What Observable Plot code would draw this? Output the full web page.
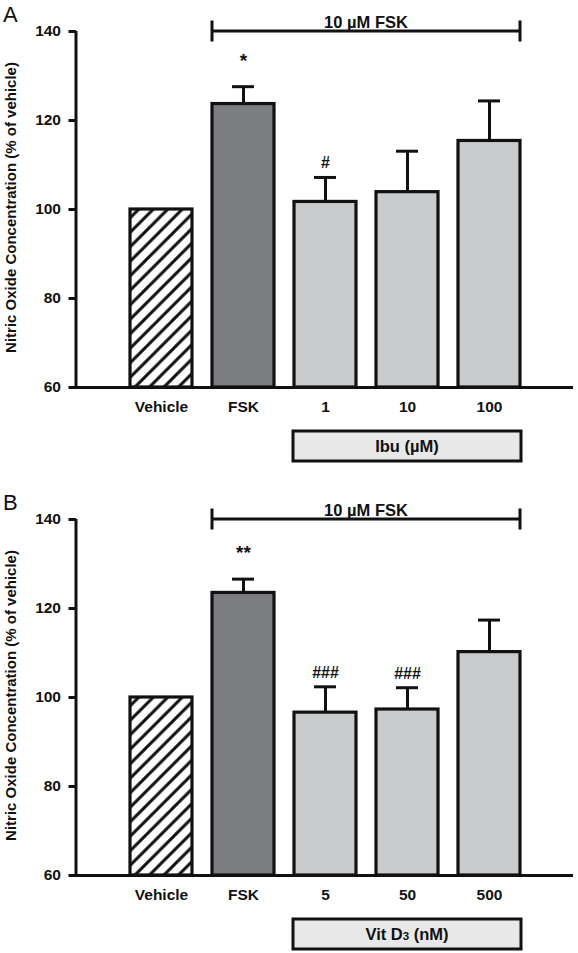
<!DOCTYPE html>
<html><head><meta charset="utf-8">
<script src="https://cdn.jsdelivr.net/npm/d3@7"></script>
<script src="https://cdn.jsdelivr.net/npm/@observablehq/plot@0.6"></script>
<style>
body{margin:0;background:#fff;font-family:"Liberation Sans",Arial,sans-serif;}
#chart svg{display:block}
g[aria-label^="y-axis"] line, g[aria-label^="y-axis"] path {stroke-width:3px;}
</style></head><body><div id="chart"></div>
<script>
// ---- data ----
const categoriesA = ["Vehicle", "FSK", "1", "10", "100"];
const meansA = [100, 123.7, 101.7, 103.9, 115.4];
const semA = [0, 3.9, 5.5, 9.2, 9.0];
const sigA = ["", "*", "#", "", ""];
const groupLabelA = ["Ibu (µM)", "", ""];

const categoriesB = ["Vehicle", "FSK", "5", "50", "500"];
const meansB = [100, 123.5, 96.6, 97.3, 110.2];
const semB = [0, 3.1, 5.8, 4.9, 7.2];
const sigB = ["", "**", "###", "###", ""];
const groupLabelB = ["Vit D", "3", " (nM)"];

const yTicks = [60, 80, 100, 120, 140];
const bracketLabel = "10 µM FSK";
const yTitle = "Nitric Oxide Concentration (% of vehicle)";
const panelLetters = ["A", "B"];

const INK = "#111";
const fillVehicle = (id) => `url(#${id})`;
const fillFSK = "#7c7d80";
const fillTreat = "#c9cacc";
const fillBox = "#e8e8e8";

function panel(letter, cats, means, sems, sigs, groupParts, height, hatchId) {
  const data = cats.map((c, i) => ({
    cat: c, mean: means[i], sem: sems[i], sig: sigs[i], top: means[i] + sems[i],
    fill: i === 0 ? fillVehicle(hatchId) : i === 1 ? fillFSK : fillTreat
  }));
  const plot = Plot.plot({
    width: 578, height,
    marginLeft: 76, marginRight: 5, marginTop: 31, marginBottom: height - 387,
    style: {fontFamily: "'Liberation Sans', Arial, sans-serif", fontSize: "15.5px", fontWeight: "bold", color: INK, background: "white", overflow: "visible"},
    x: {domain: cats, paddingInner: 0.245, paddingOuter: 0.6225, tickSize: 0, tickPadding: 13, label: null},
    y: {domain: [60, 140], ticks: yTicks, tickSize: 7.5, tickPadding: 8, label: null},
    color: {type: "identity"},
    marks: [
      Plot.ruleX(data.filter(d => d.sem > 0), {x: "cat", y1: "mean", y2: "top", stroke: INK, strokeWidth: 3}),
      Plot.tickY(data.filter(d => d.sem > 0), {x: "cat", y: "top", stroke: INK, strokeWidth: 3, inset: 20}),
      Plot.barY(data, {x: "cat", y1: 60, y2: "mean", fill: "fill", stroke: INK, strokeWidth: 3.2}),
      Plot.ruleY([60], {stroke: INK, strokeWidth: 3}),
      Plot.text(data.filter(d => d.sig.startsWith("*")), {x: "cat", y: "top", text: "sig", lineAnchor: "bottom", dy: -20, fontSize: 19, fill: INK}),
      Plot.text(data.filter(d => d.sig.startsWith("#")), {x: "cat", y: "top", text: "sig", lineAnchor: "bottom", dy: -9, fontSize: 16, fill: INK}),
      Plot.text([yTitle], {frameAnchor: "left", textAnchor: "middle", rotate: -90, dx: -65, dy: -2, fontSize: 15, fill: INK})
    ]
  });

  const svg = d3.select(plot);
  const sx = plot.scale("x"), sy = plot.scale("y");
  const bw = sx.bandwidth;
  const bx = c => sx.apply(c);

  // hatch pattern
  const P = 14.5;
  const defs = svg.insert("defs", ":first-child");
  const pat = defs.append("pattern").attr("id", hatchId).attr("patternUnits", "userSpaceOnUse")
    .attr("width", P).attr("height", P);
  pat.append("rect").attr("width", P).attr("height", P).attr("fill", "white");
  pat.append("path").attr("d", `M-2,2 L2,-2 M0,${P} L${P},0 M${P - 2},${P + 2} L${P + 2},${P - 2}`)
    .attr("stroke", INK).attr("stroke-width", 3).attr("fill", "none");

  const g = svg.append("g");
  // y axis line
  const xl = sx.range[0];
  g.append("line").attr("x1", xl).attr("x2", xl)
    .attr("y1", sy.apply(140)).attr("y2", sy.apply(60) + 1.5)
    .attr("stroke", INK).attr("stroke-width", 3);

  // bracket
  const bx1 = bx(cats[1]), bx2 = bx(cats[cats.length - 1]) + bw, by = sy.apply(140);
  g.append("path").attr("d", `M${bx1},${by} H${bx2} M${bx1},${by - 10.5} V${by + 10.5} M${bx2},${by - 10.5} V${by + 10.5}`)
    .attr("stroke", INK).attr("stroke-width", 3).attr("fill", "none");
  g.append("text").attr("x", (bx1 + bx2) / 2).attr("y", by - 8.5).attr("dy", "0.35em")
    .attr("text-anchor", "middle").attr("font-size", 16.5).attr("fill", INK).text(bracketLabel);

  // group box
  const gx1 = bx(cats[2]) - 1, gx2 = bx(cats[4]) + bw + 1;
  const gy1 = sy.apply(60) + 44, gy2 = gy1 + 30;
  g.append("rect").attr("x", gx1).attr("y", gy1).attr("width", gx2 - gx1).attr("height", gy2 - gy1)
    .attr("fill", fillBox).attr("stroke", INK).attr("stroke-width", 3);
  const t = g.append("text").attr("x", (gx1 + gx2) / 2).attr("y", (gy1 + gy2) / 2).attr("dy", "0.35em")
    .attr("text-anchor", "middle").attr("font-size", 16.5).attr("fill", INK);
  t.append("tspan").text(groupParts[0]);
  if (groupParts[1]) t.append("tspan").attr("font-size", 11.5).text(groupParts[1]);
  if (groupParts[2]) t.append("tspan").text(groupParts[2]);

  // panel letter
  g.append("text").attr("x", 3).attr("y", 22).attr("text-anchor", "start")
    .attr("font-size", 22).attr("font-weight", "normal").attr("fill", INK).text(letter);

  return plot;
}

const root = document.getElementById("chart");
root.appendChild(panel(panelLetters[0], categoriesA, meansA, semA, sigA, groupLabelA, 488, "hatchA"));
root.appendChild(panel(panelLetters[1], categoriesB, meansB, semB, sigB, groupLabelB, 465, "hatchB"));
</script></body></html>
